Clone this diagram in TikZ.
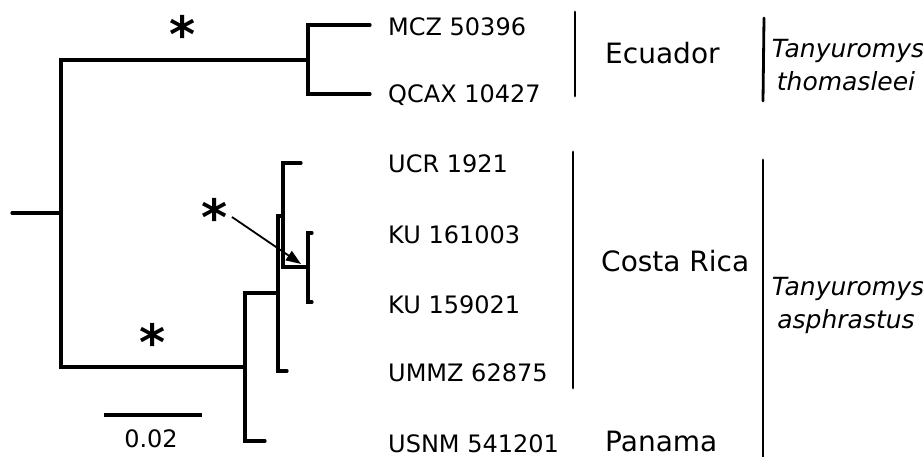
\documentclass[tikz,border=0pt]{standalone}
\usepackage{fontspec}
\setmainfont{DejaVu Sans}
\usetikzlibrary{arrows.meta}
\begin{document}
\begin{tikzpicture}[x=1pt,y=-1pt,
  br/.style={line width=3.2pt, line cap=round, line join=miter},
  bar/.style={line width=2.8pt, line cap=round},
  leaf/.style={anchor=base west, inner sep=0pt, font=\fontsize{24}{28}\selectfont},
  loc/.style={anchor=base west, inner sep=0pt, font=\fontsize{28}{32}\selectfont},
  sp/.style={anchor=base, inner sep=0pt, font=\fontsize{25}{30}\selectfont\itshape},
  ast/.style={anchor=base, inner sep=0pt, font=\fontsize{50}{56}\selectfont\bfseries},
  pointer/.style={-{Triangle[length=15pt,width=11pt]}, line width=1.8pt}
]
\useasboundingbox (0,0) rectangle (923,456);
% tree coordinates
\coordinate (root) at (12,213);
\coordinate (nA) at (61,213);
\coordinate (nE) at (308,60);
\coordinate (nC) at (245,367);
\coordinate (nD) at (278,293);
\coordinate (nF) at (283,216);
\coordinate (nG) at (308,267);
\coordinate (lMCZ) at (370,25);
\coordinate (lQCAX) at (370,94);
\coordinate (lUCR) at (301,163);
\coordinate (lKUa) at (312,233);
\coordinate (lKUb) at (312,302);
\coordinate (lUMMZ) at (287,371);
\coordinate (lUSNM) at (265,441);
% branches
\draw[br] (root) -- (nA);
\draw[br] (nE) -| (nA) |- (nC);
\draw[br] (lMCZ) -| (nE) |- (lQCAX);
\draw[br] (nD) -| (nC) |- (lUSNM);
\draw[br] (nF) -| (nD) |- (lUMMZ);
\draw[br] (lUCR) -| (nF) |- (nG);
\draw[br] (lKUa) -| (nG) |- (lKUb);
% leaf labels
\node[leaf] (tMCZ) at (388,35) {MCZ 50396};
\node[leaf] (tQCAX) at (388,102) {QCAX 10427};
\node[leaf] (tUCR) at (388,172) {UCR 1921};
\node[leaf] (tKUa) at (388,243) {KU 161003};
\node[leaf] (tKUb) at (388,313) {KU 159021};
\node[leaf] (tUMMZ) at (388,381) {UMMZ 62875};
\node[leaf] (tUSNM) at (388,452) {USNM 541201};
% asterisks
\node[ast] (s1) at (183,52) {*};
\node[ast] (s2) at (215,235) {*};
\node[ast] (s3) at (153,360) {*};
\coordinate (aS) at (232,217);
\coordinate (aE) at (301,264);
\draw[pointer] (aS) -- (aE);
% scale bar
\coordinate (sbL) at (104,415);
\coordinate (sbR) at (202,415);
\draw[line width=3.2pt] (sbL) -- (sbR);
\node[leaf, anchor=base] (sbt) at (151,447) {0.02};
% location bars
\draw[bar] (575,12) -- (575,96);
\draw[bar] (573,152) -- (573,388);
\node[loc] (ec) at (605,63) {Ecuador};
\node[loc] (cr) at (601,271) {Costa Rica};
\node[loc] (pa) at (605,451) {Panama};
% species bars
\draw[bar] (764,18) -- (763,101);
\draw[bar] (763,160) -- (763,458);
\node[sp] (sp1a) at (848,57) {Tanyuromys};
\node[sp] (sp1b) at (846,90) {thomasleei};
\node[sp] (sp2a) at (848,295) {Tanyuromys};
\node[sp] (sp2b) at (846,328) {asphrastus};
\end{tikzpicture}
\end{document}
